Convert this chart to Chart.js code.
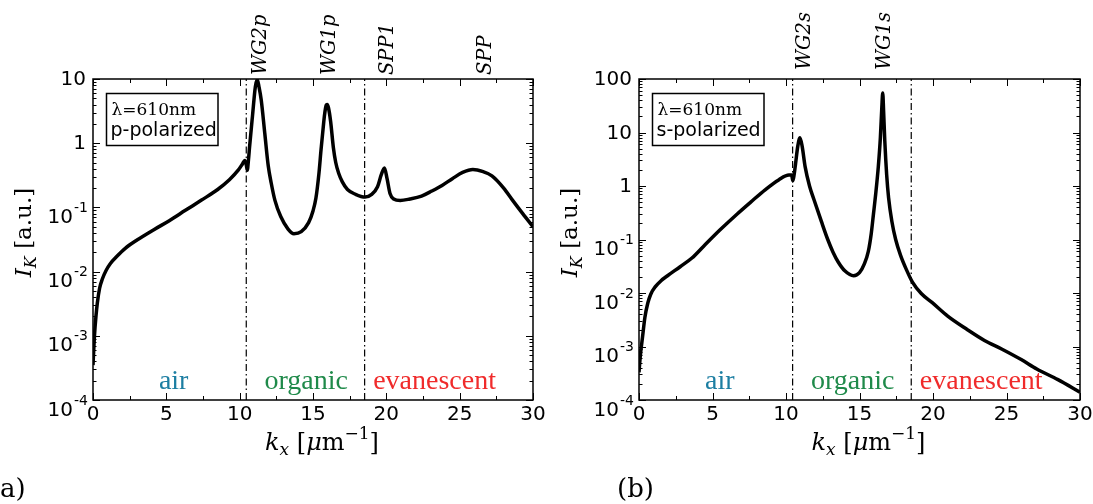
<!DOCTYPE html>
<html>
<head>
<meta charset="utf-8">
<script src="https://cdn.jsdelivr.net/npm/chart.js@4.4.1/dist/chart.umd.min.js"></script>
<style>
  html, body { margin: 0; padding: 0; background: #fff; }
  #wrap { position: relative; width: 1093px; height: 504px; overflow: hidden; }
  canvas { position: absolute; top: 0; }
</style>
</head>
<body>
<div id="wrap">
  <canvas id="chartA" width="546" height="504" style="left:0"></canvas>
  <canvas id="chartB" width="547" height="504" style="left:546px"></canvas>
</div>
<script>
// panel (a): p-polarized
const kA = [0, 0.05, 0.1, 0.2, 0.3, 0.45, 0.65, 0.9, 1.2, 1.6, 2.2, 3.0, 4.15, 5.2, 6.3, 7.4, 8.5,
  9.3, 9.9, 10.2, 10.35, 10.45, 10.52, 10.6, 10.68, 10.87, 11.07, 11.2, 11.32, 11.47, 11.71, 11.95,
  12.15, 12.4, 12.8, 13.3, 13.7, 14.2, 14.7, 15.0, 15.2, 15.4, 15.55, 15.7, 15.79, 15.9, 15.96,
  16.05, 16.2, 16.39, 16.55, 16.75, 17.0, 17.35, 17.9, 18.55, 19.0, 19.4, 19.65, 19.87, 20.05,
  20.25, 20.5, 20.95, 21.6, 22.4, 23.1, 23.8, 24.5, 25.2, 25.9, 26.6, 27.2, 28.0, 28.6, 29.3, 30];
const intensityA = [3.5e-4, 6e-4, 0.001, 0.002, 0.0033, 0.0055, 0.0078, 0.0105, 0.0135, 0.017,
  0.023, 0.031, 0.045, 0.062, 0.09, 0.13, 0.19,
  0.27, 0.38, 0.48, 0.54, 0.46, 0.38, 0.55, 0.9, 2.6, 7.6, 9.8, 7.5, 4.7, 1.44, 0.44,
  0.24, 0.13, 0.072, 0.046, 0.039, 0.042, 0.058, 0.088, 0.14, 0.33, 0.8, 1.8, 2.8, 3.9, 4.0,
  3.6, 2.2, 0.85, 0.5, 0.34, 0.25, 0.19, 0.16, 0.145, 0.16, 0.21, 0.32, 0.41, 0.28,
  0.165, 0.135, 0.128, 0.135, 0.15, 0.18, 0.22, 0.28, 0.35, 0.39, 0.36, 0.31, 0.2, 0.13, 0.08, 0.05];

// panel (b): s-polarized
const kB = [0, 0.05, 0.12, 0.24, 0.4, 0.6, 0.8, 1.1, 1.5, 1.94, 2.8, 3.6, 4.4, 5.5, 6.68, 7.6, 8.58,
  9.5, 10.2, 10.38, 10.47, 10.55, 10.65, 10.8, 10.95, 11.1, 11.3, 11.6, 11.9, 12.4, 12.84, 13.2,
  13.55, 14.0, 14.6, 15.0, 15.33, 15.6, 15.8, 15.95, 16.1, 16.28, 16.42, 16.52, 16.58, 16.64,
  16.72, 16.85, 16.98, 17.2, 17.46, 17.8, 18.2, 18.6, 19.2, 19.95, 21.0, 22.3, 23.5, 24.7, 26.0,
  27.06, 28.5, 30];
const intensityB = [3.3e-4, 5e-4, 8e-4, 0.0015, 0.0035, 0.0065, 0.0095, 0.013, 0.017, 0.021, 0.031,
  0.045, 0.075, 0.15, 0.3, 0.5, 0.85,
  1.3, 1.6, 1.6, 1.25, 1.6, 2.6, 5.5, 8.0, 5.5, 2.3, 1.0, 0.56, 0.22, 0.1, 0.058,
  0.038, 0.026, 0.021, 0.024, 0.035, 0.06, 0.13, 0.3, 0.7, 2.3, 8, 30, 55, 25,
  7, 1.6, 0.6, 0.22, 0.1, 0.05, 0.027, 0.016, 0.0098, 0.0066, 0.0037, 0.0021, 0.0013, 0.00089, 0.00057,
  0.00038, 0.00024, 0.00014];

const regionLines = [10.45, 18.52];
const regionNames = ["air", "organic", "evanescent"];
const regionColors = ["#1c7ea2", "#1f8a4a", "#f02b2b"];
const regionPos = [5.5, 14.54, 19.1];
const regionAlign = ["center", "center", "left"];

const modeNamesA = ["WG2p", "WG1p", "SPP1", "SPP"];
const modePosA = [11.82, 16.47, 20.45, 27.15];
const modeNamesB = ["WG2s", "WG1s"];
const modePosB = [11.64, 17.09];

const xTicks = [0, 5, 10, 15, 20, 25, 30];
const yExpA = [-4, -3, -2, -1, 0, 1];
const yExpB = [-4, -3, -2, -1, 0, 1, 2];

const SERIF = "'DejaVu Serif', serif";
const SANS = "'DejaVu Sans', sans-serif";

function drawRich(ctx, parts, x, y, align)
{
    let w = 0;
    parts.forEach(p => { ctx.font = p[1]; w += ctx.measureText(p[0]).width; });
    let cx = align === "center" ? x - w / 2 : (align === "right" ? x - w : x);
    ctx.textAlign = "left";
    ctx.textBaseline = "alphabetic";
    parts.forEach(p => {
        ctx.font = p[1];
        ctx.fillText(p[0], cx, y + (p[2] || 0));
        cx += ctx.measureText(p[0]).width;
    });
}

function decorPlugin(cfg)
{
    return {
        id: "decor",
        afterDraw(chart) {
            const ctx = chart.ctx;
            const a = chart.chartArea;
            const x = chart.scales.x, y = chart.scales.y;
            ctx.save();
            ctx.fillStyle = "#000";
            ctx.strokeStyle = "#000";

            // inward ticks, all four sides
            ctx.lineWidth = 1;
            ctx.beginPath();
            for (let v = 0; v <= 30; v += 2.5) {
                const px = Math.round(x.getPixelForValue(v)) + 0.5;
                const len = v % 5 === 0 ? 7 : 4;
                ctx.moveTo(px, a.bottom); ctx.lineTo(px, a.bottom - len);
                ctx.moveTo(px, a.top); ctx.lineTo(px, a.top + len);
            }
            const exps = cfg.yExp;
            for (let i = 0; i < exps.length; i++) {
                const e = exps[i];
                const py = Math.round(y.getPixelForValue(Math.pow(10, e))) + 0.5;
                ctx.moveTo(a.left, py); ctx.lineTo(a.left + 7, py);
                ctx.moveTo(a.right, py); ctx.lineTo(a.right - 7, py);
                if (i < exps.length - 1) {
                    for (let m = 2; m <= 9; m++) {
                        const pm = Math.round(y.getPixelForValue(m * Math.pow(10, e))) + 0.5;
                        ctx.moveTo(a.left, pm); ctx.lineTo(a.left + 3.5, pm);
                        ctx.moveTo(a.right, pm); ctx.lineTo(a.right - 3.5, pm);
                    }
                }
            }
            ctx.stroke();

            // frame
            ctx.lineWidth = 1.5;
            ctx.strokeRect(a.left, a.top, a.right - a.left, a.bottom - a.top);

            // x tick labels
            ctx.font = "20px " + SANS;
            ctx.textAlign = "center";
            ctx.textBaseline = "top";
            xTicks.forEach(v => ctx.fillText(String(v), x.getPixelForValue(v), a.bottom + 5));

            // y tick labels
            exps.forEach(e => {
                const py = y.getPixelForValue(Math.pow(10, e));
                if (e >= 0) {
                    ctx.font = "20px " + SANS;
                    ctx.textAlign = "right";
                    ctx.textBaseline = "middle";
                    ctx.fillText(String(Math.pow(10, e)), a.left - 7, py + 1);
                } else {
                    const sup = String(e);
                    ctx.font = "14px " + SANS;
                    const sw = ctx.measureText(sup).width;
                    ctx.textAlign = "right";
                    ctx.textBaseline = "middle";
                    ctx.fillText(sup, a.left - 5, py + 1);
                    ctx.font = "20px " + SANS;
                    ctx.textBaseline = "alphabetic";
                    ctx.fillText("10", a.left - 6 - sw, py + 15.5);
                }
            });

            // axis titles
            drawRich(ctx, [
                ["k", "italic 24px " + SERIF, 0],
                ["x", "italic 17px " + SERIF, 5],
                [" [", "24px " + SERIF, 0],
                ["\u03bc", "italic 24px " + SERIF, 0],
                ["m", "24px " + SERIF, 0],
                ["\u22121", "17px " + SERIF, -11],
                ["]", "24px " + SERIF, 0]
            ], (a.left + a.right) / 2 + 9, 450, "center");

            ctx.save();
            ctx.translate(a.left - 62, (a.top + a.bottom) / 2 - 7);
            ctx.rotate(-Math.PI / 2);
            drawRich(ctx, [
                ["I", "italic 23px " + SERIF, 0],
                ["K", "italic 16px " + SERIF, 5],
                [" [a.u.]", "23px " + SERIF, 0]
            ], 0, 0, "center");
            ctx.restore();

            // region labels
            ctx.font = "28px 'Liberation Serif', serif";
            ctx.textBaseline = "alphabetic";
            regionNames.forEach((n, i) => {
                ctx.fillStyle = regionColors[i];
                ctx.textAlign = regionAlign[i];
                ctx.fillText(n, x.getPixelForValue(regionPos[i]), a.bottom - 11);
            });
            ctx.fillStyle = "#000";

            // mode labels on top
            ctx.font = "italic 19.5px " + SERIF;
            cfg.modeNames.forEach((n, i) => {
                ctx.save();
                ctx.translate(x.getPixelForValue(cfg.modePos[i]), a.top - cfg.modeGap);
                ctx.rotate(-Math.PI / 2);
                ctx.textAlign = "left";
                ctx.textBaseline = "alphabetic";
                ctx.fillText(n, 0, 0);
                ctx.restore();
            });

            // info box
            const bx = a.left + 13.5, by = a.top + 14.5;
            ctx.lineWidth = 1.5;
            ctx.strokeRect(bx, by, 111.5, 52);
            ctx.textAlign = "left";
            ctx.textBaseline = "alphabetic";
            ctx.font = "17px " + SERIF;
            ctx.fillText("\u03bb=610nm", bx + 5, by + 21);
            ctx.font = "19px " + SANS;
            ctx.fillText(cfg.polarization, bx + 4, by + 42);

            // panel label
            ctx.font = "26px " + SERIF;
            ctx.fillText(cfg.panel, cfg.panelX, 497);
            ctx.restore();
        }
    };
}

function buildChart(id, ks, vals, yMax, cfg)
{
    const curve = {
        data: ks.map((k, i) => ({ x: k, y: vals[i] })),
        borderColor: "#000",
        borderWidth: 3.5,
        pointRadius: 0,
        fill: false,
        cubicInterpolationMode: "monotone"
    };
    const dividers = regionLines.map(r => ({
        data: [{ x: r, y: 1e-4 }, { x: r, y: yMax }],
        borderColor: "#000",
        borderWidth: 1.2,
        borderDash: [7, 3, 1.5, 3],
        pointRadius: 0,
        fill: false
    }));

    return new Chart(document.getElementById(id), {
        type: "line",
        data: { datasets: [curve, ...dividers] },
        options: {
            responsive: false,
            animation: false,
            devicePixelRatio: 1,
            events: [],
            layout: { padding: { left: 93, right: 13, top: 79, bottom: 104 } },
            plugins: { legend: { display: false }, tooltip: { enabled: false } },
            scales: {
                x: { type: "linear", min: 0, max: 30, display: false },
                y: { type: "logarithmic", min: 1e-4, max: yMax, display: false }
            }
        },
        plugins: [decorPlugin(cfg)]
    });
}

buildChart("chartA", kA, intensityA, 10, {
    yExp: yExpA, modeNames: modeNamesA, modePos: modePosA, modeGap: 4,
    polarization: "p-polarized", panel: "a)", panelX: 0
});
buildChart("chartB", kB, intensityB, 100, {
    yExp: yExpB, modeNames: modeNamesB, modePos: modePosB, modeGap: 9,
    polarization: "s-polarized", panel: "(b)", panelX: 71
});
</script>
</body>
</html>
